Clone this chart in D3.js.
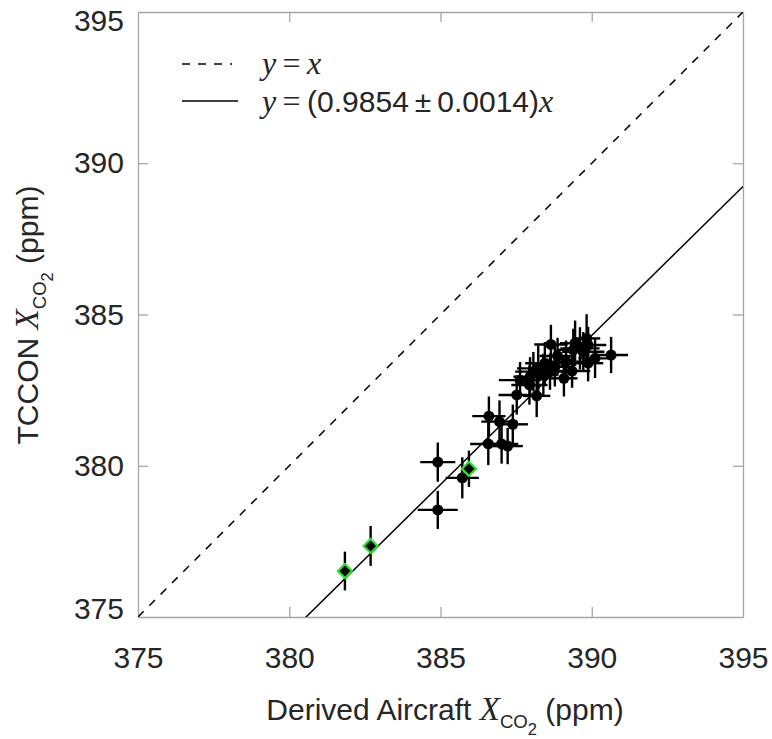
<!DOCTYPE html>
<html lang="en">
<head>
  <meta charset="UTF-8">
  <title>TCCON vs Derived Aircraft XCO2</title>
  <style>
    body { margin: 0; background: #fff; }
    svg { display: block; }
    .tick text { font-family: "Liberation Sans", Arial, sans-serif; font-size: 30px; fill: #262626; }
    .axis path, .axis line { stroke: #a6a6a6; stroke-width: 1.3; }
  </style>
  <script src="https://d3js.org/d3.v7.min.js"></script>
</head>
<body>
<svg id="chart" width="772" height="739"></svg>
<script>
  // values (ppm)
  const aircraftX = [
    388.65, 388.87, 389.45, 389.61, 389.83, 389.72, 389.39, 389.88, 390.64, 390.11,
    389.88, 389.35, 389.08, 389.15, 388.78, 388.45, 388.23, 388.07, 388.62, 388.40,
    387.96, 387.63, 387.94, 388.18, 387.52, 386.60, 386.95, 387.39, 386.58, 387.02,
    387.22, 384.91, 384.91, 385.72
  ];
  const tcconY = [
    384.01, 383.63, 384.05, 383.88, 384.21, 383.77, 383.83, 383.99, 383.66, 383.55,
    383.39, 383.13, 382.89, 383.44, 383.27, 383.39, 383.22, 383.11, 383.11, 383.00,
    382.94, 382.83, 382.67, 382.31, 382.34, 381.64, 381.46, 381.37, 380.72, 380.72,
    380.65, 380.12, 378.54, 379.60
  ];
  const aircraftErr = [
    0.55, 0.60, 0.50, 0.65, 0.45, 0.70, 0.55, 0.60, 0.56, 0.55,
    0.50, 0.60, 0.45, 0.55, 0.60, 0.65, 0.70, 0.60, 0.55, 0.50,
    0.55, 0.70, 0.60, 0.45, 0.60, 0.55, 0.60, 0.50, 0.60, 0.55,
    0.50, 0.58, 0.66, 0.55
  ];
  const tcconErr = [
    0.65, 0.60, 0.75, 0.70, 0.80, 0.65, 0.70, 0.60, 0.60, 0.65,
    0.60, 0.55, 0.60, 0.70, 0.65, 0.70, 0.75, 0.65, 0.60, 0.70,
    0.65, 0.60, 0.65, 0.70, 0.65, 0.65, 0.70, 0.65, 0.70, 0.65,
    0.60, 0.65, 0.63, 0.68
  ];
  // green diamond points
  const greenX = [381.84, 382.69, 385.94];
  const greenY = [376.52, 377.35, 379.90];
  const greenXErr = [0.15, 0.15, 0.15];
  const greenYErr = [0.64, 0.66, 0.60];

  const slope = 0.9854;
  const tickValues = [375, 380, 385, 390, 395];
  const domain = [375, 395];

  const mLeft = 138, mRight = 743, mTop = 12, mBottom = 617;
  const svg = d3.select("#chart");

  const x = d3.scaleLinear().domain(domain).range([mLeft, mRight]);
  const y = d3.scaleLinear().domain(domain).range([mBottom, mTop]);

  svg.append("defs").append("clipPath").attr("id", "clip")
    .append("rect").attr("x", mLeft).attr("y", mTop)
    .attr("width", mRight - mLeft).attr("height", mBottom - mTop);

  // frame with inward ticks on every side
  const inner = [380, 385, 390];
  svg.append("g").attr("class", "axis").attr("transform", `translate(0,${mBottom})`)
    .call(d3.axisBottom(x).tickValues(inner).tickSizeInner(-10).tickSizeOuter(0).tickFormat(""));
  svg.append("g").attr("class", "axis").attr("transform", `translate(0,${mTop})`)
    .call(d3.axisTop(x).tickValues(inner).tickSizeInner(-10).tickSizeOuter(0).tickFormat(""));
  svg.append("g").attr("class", "axis").attr("transform", `translate(${mLeft},0)`)
    .call(d3.axisLeft(y).tickValues(inner).tickSizeInner(-10).tickSizeOuter(0).tickFormat(""));
  svg.append("g").attr("class", "axis").attr("transform", `translate(${mRight},0)`)
    .call(d3.axisRight(y).tickValues(inner).tickSizeInner(-10).tickSizeOuter(0).tickFormat(""));

  // tick labels
  const xl = svg.append("g").attr("class", "axis").attr("transform", `translate(0,${mBottom})`)
    .call(d3.axisBottom(x).tickValues(tickValues).tickSize(0).tickPadding(30));
  xl.select(".domain").remove();
  const yl = svg.append("g").attr("class", "axis").attr("transform", `translate(${mLeft},0)`)
    .call(d3.axisLeft(y).tickValues(tickValues).tickSize(0).tickPadding(14));
  yl.select(".domain").remove();
  // end labels sit nudged inside the figure, as in the original
  yl.selectAll(".tick text").attr("dy", d => d === 395 ? "0.62em" : d === 375 ? "0.05em" : "0.32em");

  // reference lines
  const plot = svg.append("g").attr("clip-path", "url(#clip)");
  plot.append("line")
    .attr("x1", x(375)).attr("y1", y(375)).attr("x2", x(395)).attr("y2", y(395))
    .attr("stroke", "#000").attr("stroke-width", 1.5).attr("stroke-dasharray", "8,8");
  plot.append("line")
    .attr("x1", x(375)).attr("y1", y(375 * slope)).attr("x2", x(395)).attr("y2", y(395 * slope))
    .attr("stroke", "#000").attr("stroke-width", 1.5);

  // error bars + points
  const pts = aircraftX.map((v, i) => ({x: v, y: tcconY[i], ex: aircraftErr[i], ey: tcconErr[i]}));
  const greens = greenX.map((v, i) => ({x: v, y: greenY[i], ex: greenXErr[i], ey: greenYErr[i]}));
  const all = pts.concat(greens);

  const eb = plot.append("g").attr("stroke", "#000").attr("stroke-width", 2.4);
  eb.selectAll(".ex").data(all).enter().append("line")
    .attr("x1", d => x(d.x - d.ex)).attr("x2", d => x(d.x + d.ex))
    .attr("y1", d => y(d.y)).attr("y2", d => y(d.y));
  eb.selectAll(".ey").data(all).enter().append("line")
    .attr("x1", d => x(d.x)).attr("x2", d => x(d.x))
    .attr("y1", d => y(d.y - d.ey)).attr("y2", d => y(d.y + d.ey));

  plot.selectAll(".dot").data(pts).enter().append("circle")
    .attr("cx", d => x(d.x)).attr("cy", d => y(d.y)).attr("r", 5.5).attr("fill", "#000");

  plot.selectAll(".dia").data(greens).enter().append("path")
    .attr("transform", d => `translate(${x(d.x)},${y(d.y)})`)
    .attr("d", "M0,-7L7,0L0,7L-7,0Z")
    .attr("fill", "#000").attr("stroke", "#22e822").attr("stroke-width", 2.2);

  // legend
  const lg = svg.append("g");
  lg.append("line").attr("x1", 182).attr("x2", 232).attr("y1", 64).attr("y2", 64)
    .attr("stroke", "#000").attr("stroke-width", 1.5).attr("stroke-dasharray", "8,8");
  lg.append("line").attr("x1", 182).attr("x2", 238).attr("y1", 101).attr("y2", 101)
    .attr("stroke", "#000").attr("stroke-width", 1.5);
  const serif = "'Liberation Serif', 'DejaVu Serif', serif";
  const sans = "'Liberation Sans', Arial, sans-serif";
  const t1 = lg.append("text").attr("x", 262).attr("y", 74).attr("font-size", 32).attr("fill", "#262626");
  t1.append("tspan").attr("font-family", serif).attr("font-style", "italic").text("y");
  t1.append("tspan").attr("font-family", serif).text("\u2009=\u2009");
  t1.append("tspan").attr("font-family", serif).attr("font-style", "italic").text("x");
  const t2 = lg.append("text").attr("x", 262).attr("y", 112).attr("font-size", 32).attr("fill", "#262626");
  t2.append("tspan").attr("font-family", serif).attr("font-style", "italic").text("y");
  t2.append("tspan").attr("font-family", serif).text("\u2009=\u2009");
  t2.append("tspan").attr("font-family", sans).attr("font-size", 30).text("(0.9854\u2009\u00b1\u20090.0014)");
  t2.append("tspan").attr("font-family", serif).attr("font-style", "italic").text("x");

  // axis titles
  function xco2(el, pre, size) {
    el.append("tspan").attr("font-family", sans).text(pre);
    el.append("tspan").attr("font-family", serif).attr("font-style", "italic").attr("font-size", size * 1.1).text("X");
    el.append("tspan").attr("font-family", sans).attr("font-size", size * 0.62).attr("dy", 8).text("CO");
    el.append("tspan").attr("font-family", sans).attr("font-size", size * 0.55).attr("dy", 7).text("2");
    el.append("tspan").attr("font-family", sans).attr("dy", -15).text(" (ppm)");
  }
  const xt = svg.append("text").attr("x", 445).attr("y", 720).attr("text-anchor", "middle")
    .attr("font-size", 30).attr("fill", "#262626");
  xco2(xt, "Derived Aircraft ", 30);
  const yt = svg.append("text").attr("transform", "translate(38,315) rotate(-90)")
    .attr("text-anchor", "middle").attr("font-size", 30).attr("fill", "#262626");
  xco2(yt, "TCCON ", 30);
</script>
</body>
</html>
